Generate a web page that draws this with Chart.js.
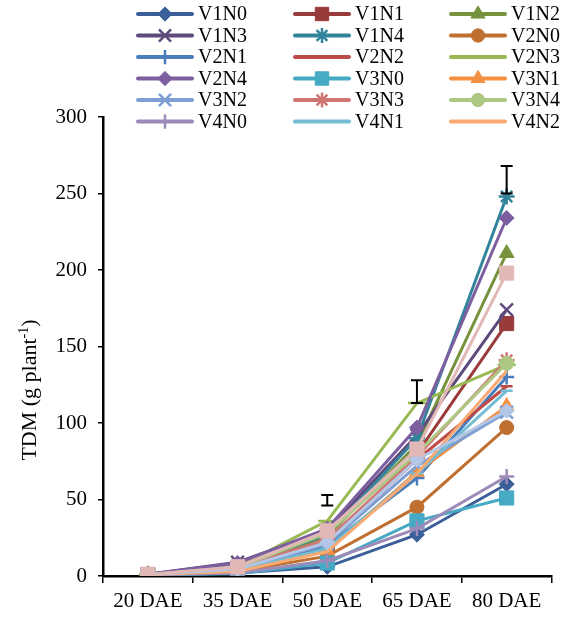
<!DOCTYPE html>
<html><head><meta charset="utf-8">
<script src="https://cdn.jsdelivr.net/npm/chart.js@4.4.0/dist/chart.umd.min.js"></script>
<style>html,body{margin:0;padding:0;background:#fff}</style>
</head><body>
<canvas id="c" width="563" height="618"></canvas>
<script>
// ---- data ----
const categories = ['20 DAE', '35 DAE', '50 DAE', '65 DAE', '80 DAE'];
const yTickValues = [0, 50, 100, 150, 200, 250, 300];
const seriesNames = ['V1N0','V1N1','V1N2','V1N3','V1N4','V2N0','V2N1','V2N2','V2N3','V2N4',
                     'V3N0','V3N1','V3N2','V3N3','V3N4','V4N0','V4N1','V4N2','V4N3','V4N4'];
const V1N0 = [0.8, 2.0, 6, 27, 60];
const V1N1 = [1.0, 4.5, 20, 80, 165];
const V1N2 = [1.1, 5.5, 26, 86, 211];
const V1N3 = [1.2, 9.0, 30, 92, 174];
const V1N4 = [1.1, 6.5, 27, 90, 248];
const V2N0 = [0.9, 3.0, 13, 45, 97];
const V2N1 = [1.0, 4.0, 20, 64, 130];
const V2N2 = [1.0, 4.5, 22, 76, 124];
const V2N3 = [1.0, 6.0, 36, 113, 138];
const V2N4 = [1.2, 8.5, 31, 97, 234];
const V3N0 = [0.7, 1.5, 8.5, 36, 51];
const V3N1 = [0.8, 3.5, 17, 68, 111];
const V3N2 = [0.9, 4.0, 21, 72, 107];
const V3N3 = [1.0, 5.0, 24, 78, 141];
const V3N4 = [1.0, 5.5, 28, 80, 139];
const V4N0 = [0.7, 2.0, 10, 31, 65];
const V4N1 = [0.9, 3.5, 18, 67, 121];
const V4N2 = [0.9, 3.0, 16, 67, 134];
const V4N3 = [0.9, 4.5, 22, 76, 108];
const V4N4 = [1.0, 6.0, 29.5, 83, 198];
const seriesValues = [V1N0,V1N1,V1N2,V1N3,V1N4,V2N0,V2N1,V2N2,V2N3,V2N4,
                      V3N0,V3N1,V3N2,V3N3,V3N4,V4N0,V4N1,V4N2,V4N3,V4N4];
// error bars (LSD) per category: [low, high], null = none
const errLow  = [null, null, 46, 113, 250];
const errHigh = [null, null, 53, 128, 268];

// ---- styles ----
const colors = ['#3B5F98','#983B3A','#76923C','#5F4A7C','#31849B','#BF6F30','#4A7EBB','#BE4B48',
                '#98B954','#7D5FA0','#46AAC5','#F38F40','#7D9FD3','#CF7673','#ACC882','#9C8AB9',
                '#73BCD2','#F9AA72','#B4C6E7','#E2B8B7'];
const markers = ['rectRot','rect','triangle','crossRot','star','circle','cross','line','line',
                 'rectRot','rect','triangle','crossRot','star','circle','cross','line',false,
                 'rectRot','rect'];
const markerRadius = {rectRot:7.5, rect:10, triangle:8.5, crossRot:9, star:8, circle:7, cross:7.5, line:6};
const lineMarker = {crossRot:1, star:1, cross:1, line:1};

const FONT = '"Liberation Serif","Times New Roman",serif';

const datasets = seriesNames.map((name, i) => {
  const m = markers[i];
  let r = m ? markerRadius[m] : 0;
  if (i === 8) r = 9; // long dash
  return {
    label: name,
    data: seriesValues[i],
    borderColor: colors[i],
    backgroundColor: colors[i],
    pointBackgroundColor: colors[i],
    pointBorderColor: colors[i],
    pointStyle: m || 'circle',
    pointRadius: r,
    pointHoverRadius: r,
    pointBorderWidth: (m && lineMarker[m]) ? 2.5 : 1,
    borderWidth: 3,
    fill: false,
    tension: 0,
    order: seriesNames.length - i
  };
});

const legendPlugin = {
  id: 'gridLegend',
  afterDraw(chart) {
    const ctx = chart.ctx;
    const cols = [138, 295, 451];
    ctx.save();
    for (let i = 0; i < 18; i++) {
      const ds = chart.data.datasets[i];
      const x0 = cols[i % 3];
      const y = 14 + Math.floor(i / 3) * 21.5;
      ctx.strokeStyle = ds.borderColor;
      ctx.lineWidth = 4;
      ctx.lineCap = 'round';
      ctx.beginPath(); ctx.moveTo(x0, y); ctx.lineTo(x0 + 54, y); ctx.stroke();
      if (markers[i]) {
        ctx.fillStyle = ds.pointBackgroundColor;
        ctx.strokeStyle = ds.pointBorderColor;
        ctx.lineWidth = ds.pointBorderWidth;
        ctx.lineCap = 'butt';
        Chart.helpers.drawPoint(ctx, {pointStyle: ds.pointStyle, radius: ds.pointRadius * 0.95, rotation: 0, borderWidth: ds.pointBorderWidth}, x0 + 27, y);
      }
      ctx.fillStyle = '#000';
      ctx.font = '20px ' + FONT;
      ctx.textBaseline = 'middle';
      ctx.textAlign = 'left';
      ctx.fillText(ds.label, x0 + 60, y + 1);
    }
    ctx.restore();
  }
};

const errorBarPlugin = {
  id: 'errBars',
  afterDatasetsDraw(chart) {
    const ctx = chart.ctx, xs = chart.scales.x, ys = chart.scales.y;
    ctx.save();
    ctx.strokeStyle = '#000';
    ctx.lineWidth = 2;
    for (let k = 0; k < categories.length; k++) {
      if (errLow[k] == null) continue;
      const x = xs.getPixelForValue(k);
      const y1 = ys.getPixelForValue(errLow[k]);
      const y2 = ys.getPixelForValue(errHigh[k]);
      ctx.beginPath();
      ctx.moveTo(x, y1); ctx.lineTo(x, y2);
      ctx.moveTo(x - 6, y1); ctx.lineTo(x + 6, y1);
      ctx.moveTo(x - 6, y2); ctx.lineTo(x + 6, y2);
      ctx.stroke();
    }
    ctx.restore();
  }
};

const yTitlePlugin = {
  id: 'yTitle',
  afterDraw(chart) {
    const ctx = chart.ctx;
    ctx.save();
    ctx.translate(29, 390);
    ctx.rotate(-Math.PI / 2);
    ctx.fillStyle = '#000';
    ctx.textBaseline = 'alphabetic';
    ctx.textAlign = 'left';
    const main = 'TDM (g plant', sup = '-1', close = ')';
    const bigF = '22px ' + FONT, smallF = '14px ' + FONT;
    ctx.font = bigF; const w1 = ctx.measureText(main).width, w3 = ctx.measureText(close).width;
    ctx.font = smallF; const w2 = ctx.measureText(sup).width;
    let x = -(w1 + w2 + w3) / 2;
    const base = 7;
    ctx.font = bigF; ctx.fillText(main, x, base); x += w1;
    ctx.font = smallF; ctx.fillText(sup, x, base - 8); x += w2;
    ctx.font = bigF; ctx.fillText(close, x, base);
    ctx.restore();
  }
};

new Chart(document.getElementById('c'), {
  type: 'line',
  data: { labels: categories, datasets },
  options: {
    responsive: false,
    animation: false,
    devicePixelRatio: 1,
    layout: { padding: { top: 117, right: 0, left: 0, bottom: 0 } },
    plugins: { legend: { display: false }, tooltip: { enabled: false } },
    scales: {
      x: {
        offset: true,
        grid: { drawOnChartArea: false, drawTicks: true, tickLength: 7, color: '#000', lineWidth: 1.5, offset: true },
        border: { display: true, color: '#000', width: 2.5 },
        ticks: { color: '#000', font: { family: FONT, size: 21 }, padding: 6, maxRotation: 0 },
        afterFit(s) { s.height = 42; }
      },
      y: {
        min: 0, max: 300,
        afterBuildTicks(s) { s.ticks = yTickValues.map(v => ({ value: v })); },
        grid: { drawOnChartArea: false, drawTicks: true, tickLength: 5, color: '#000', lineWidth: 1.5 },
        border: { display: true, color: '#000', width: 2.5 },
        ticks: { color: '#000', font: { family: FONT, size: 21 }, padding: 11 },
        afterFit(s) { s.width = 103; }
      }
    }
  },
  plugins: [legendPlugin, errorBarPlugin, yTitlePlugin]
});
</script>
</body></html>
